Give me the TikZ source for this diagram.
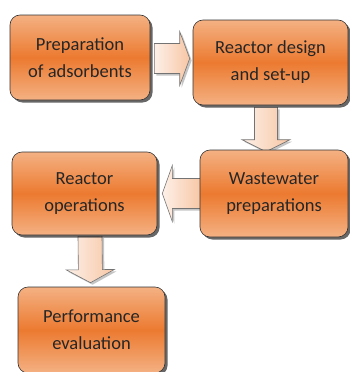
\documentclass[tikz,border=0pt]{standalone}
\usepackage{fontspec}
\setmainfont{Carlito}
\usetikzlibrary{calc}
\usetikzlibrary{shadows,backgrounds}

\definecolor{boxlight}{HTML}{F4B183}
\definecolor{boxdark}{HTML}{EC7A30}
\definecolor{arrowlight}{HTML}{FDF0E8}
\definecolor{arrowdark}{HTML}{F7C6A4}
\definecolor{textgray}{HTML}{262626}

\tikzset{
  stage/.style={draw=black!80, line width=0.6pt, rounded corners=10pt,
    top color=boxlight, bottom color=boxlight, middle color=boxdark,
    align=center, text=textgray, inner sep=0pt,
    font=\fontsize{18.5}{27}\selectfont,
    drop shadow={shadow xshift=2.5pt, shadow yshift=-2.5pt, fill=black!85, opacity=.7}},
  fatarrow/.style={draw=black!55, line width=0.6pt,
    left color=arrowlight, right color=arrowdark,
    drop shadow={shadow xshift=2pt, shadow yshift=-2pt, fill=black!45, opacity=.5}},
}

% #1 start, #2 end, #3 half shaft, #4 half head, #5 head length
\newcommand{\blockarrow}[5]{%
  \coordinate (ba-h) at ($(#2)!#5!(#1)$);
  \path[fatarrow] ($(#1)!#3!90:(#2)$) -- ($(ba-h)!#3!90:(#2)$)
    -- ($(ba-h)!#4!90:(#2)$) -- (#2) -- ($(ba-h)!#4!-90:(#2)$)
    -- ($(ba-h)!#3!-90:(#2)$) -- ($(#1)!#3!-90:(#2)$) -- cycle;
}

\begin{document}
\begin{tikzpicture}[x=1pt,y=-1pt]
  \useasboundingbox (0,0) rectangle (349,372);

  % first row
  \node[stage, minimum width=140pt, minimum height=85pt] at (80,57.5) (prep) {Preparation\\of adsorbents};
  \node[stage, minimum width=155pt, minimum height=85pt] at (270.5,62.5) (design) {Reactor design\\and set-up};

  % second row
  \node[stage, minimum width=148pt, minimum height=87pt] at (274,193.5) (waste) {Wastewater\\preparations};
  \node[stage, minimum width=145pt, minimum height=83pt] at (84.5,193.5) (ops) {Reactor\\operations};

  % last step
  \node[stage, minimum width=147pt, minimum height=86pt] at (91.5,330) (perf) {Performance\\evaluation};

  \begin{scope}[on background layer]
    \coordinate (a1s) at ($(prep.east)+(4,1)$);
    \coordinate (a1e) at ($(design.west)+(-3,-4)$);
    \blockarrow{a1s}{a1e}{15pt}{27pt}{10pt}

    \coordinate (a2s) at ($(design.south)+(-4.5,2)$);
    \coordinate (a2e) at ($(waste.north)+(-8,2)$);
    \blockarrow{a2s}{a2e}{11.5pt}{24pt}{12pt}

    \coordinate (a3s) at ($(waste.west)+(2,0)$);
    \coordinate (a3e) at ($(ops.east)+(5,0)$);
    \blockarrow{a3s}{a3e}{15pt}{28pt}{10pt}

    \coordinate (a4s) at ($(ops.south)+(5.5,1)$);
    \coordinate (a4e) at ($(perf.north)+(-1,-4)$);
    \blockarrow{a4s}{a4e}{12pt}{24pt}{13pt}
  \end{scope}
\end{tikzpicture}
\end{document}
